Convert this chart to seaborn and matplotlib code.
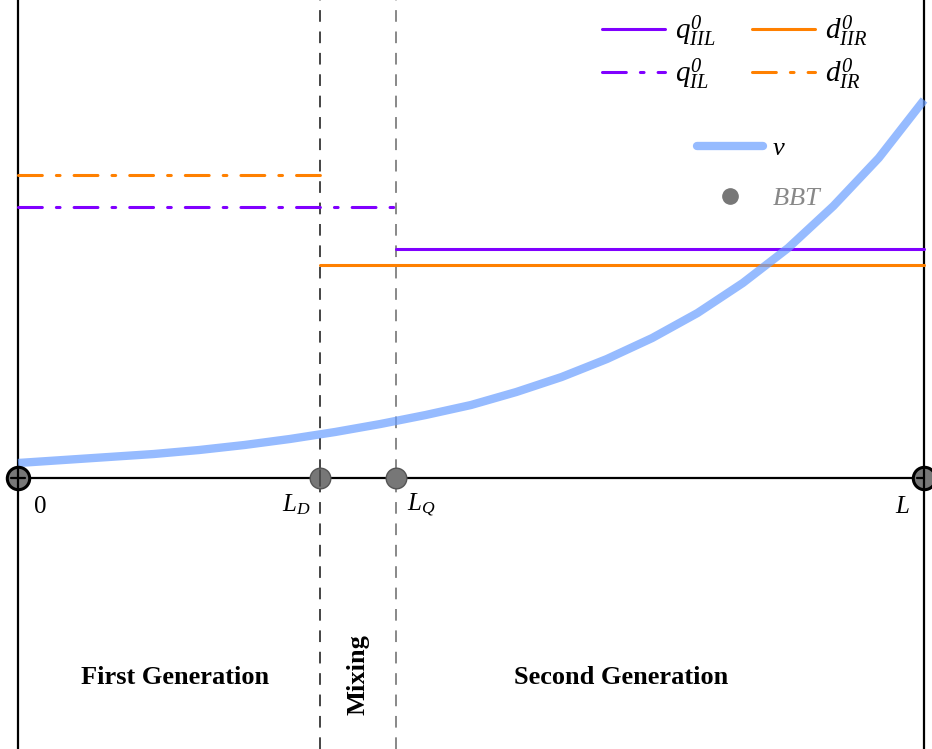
import numpy as np
import matplotlib
matplotlib.use('Agg')
import matplotlib.pyplot as plt
import seaborn as sns
from matplotlib.lines import Line2D

# positions along the line (L = 1)
L_D = 0.333
L_Q = 0.417
L = 1.0

# level lines
q_IL = 2.71    # first generation, left of L_Q
d_IR = 3.03    # first generation, left of L_D
q_IIL = 2.29   # second generation, right of L_Q
d_IIR = 2.13   # second generation, right of L_D

# v curve
v_x = [0.0, 0.05, 0.10, 0.15, 0.20, 0.25, 0.30, 0.35, 0.40, 0.45, 0.50,
       0.55, 0.60, 0.65, 0.70, 0.75, 0.80, 0.85, 0.90, 0.95, 1.0]
v_y = [0.15, 0.18, 0.21, 0.24, 0.28, 0.33, 0.39, 0.46, 0.54, 0.63, 0.73,
       0.86, 1.01, 1.19, 1.40, 1.65, 1.95, 2.30, 2.72, 3.20, 3.78]

bbt_x = [0.0, L_D, L_Q, L]
bbt_labels = ['$0$', '$L_D$', '$L_Q$', '$L$']

purple = '#8000ff'
orange = '#ff8000'
blue = '#6a9eff'

sns.set_style('white')
plt.rcParams['font.family'] = ['Liberation Serif', 'DejaVu Serif']
plt.rcParams['text.color'] = 'black'
plt.rcParams['mathtext.fontset'] = 'custom'
plt.rcParams['mathtext.rm'] = 'Liberation Serif'
plt.rcParams['mathtext.it'] = 'Liberation Serif:italic'
plt.rcParams['mathtext.bf'] = 'Liberation Serif:bold'
plt.rcParams['mathtext.sf'] = 'Liberation Serif:italic'  # used for the italic 0

fig = plt.figure(figsize=(9.32, 7.49), dpi=100)
ax = fig.add_axes([0, 0, 1, 1])
ax.set_xlim(-0.0199, 1.0088)
ax.set_ylim(-2.71, 4.78)
ax.axis('off')

# frame lines
ax.axvline(0, color='black', lw=1.6, zorder=2)
ax.axvline(L, color='black', lw=1.6, zorder=2)
ax.plot([0, L], [0, 0], color='black', lw=1.6, zorder=2)
ax.axvline(L_D, color='#444444', lw=1.4, ls=(0, (6, 5)), zorder=1)
ax.axvline(L_Q, color='#888888', lw=1.4, ls=(0, (6, 5)), zorder=1)

dd = (0, (7.8, 4.6, 1.2, 4.6))
ax.plot([0, L_D], [d_IR, d_IR], color=orange, lw=2.2, ls=dd, dash_capstyle='round', zorder=3)
ax.plot([0, L_Q], [q_IL, q_IL], color=purple, lw=2.2, ls=dd, dash_capstyle='round', zorder=3)
ax.plot([L_Q, L], [q_IIL, q_IIL], color=purple, lw=2.2, zorder=3)
ax.plot([L_D, L], [d_IIR, d_IIR], color=orange, lw=2.2, zorder=3)

sns.lineplot(x=v_x, y=v_y, ax=ax, color=blue, lw=6, alpha=0.7, zorder=4,
             solid_capstyle='butt')

# BBT points
sns.scatterplot(x=[bbt_x[0], bbt_x[3]], y=[0, 0], ax=ax, s=260, color='#777777',
                edgecolor='black', linewidth=2.2, zorder=5)
sns.scatterplot(x=[bbt_x[1], bbt_x[2]], y=[0, 0], ax=ax, s=220, color='#777777',
                edgecolor='#555555', linewidth=1, zorder=5)
ax.plot([0, 0], [-0.1, 0.1], color='black', lw=1.6, zorder=6)
ax.plot([0 - 0.008, 0 + 0.008], [0, 0], color='black', lw=1.6, zorder=6)
ax.plot([L, L], [-0.1, 0.1], color='black', lw=1.6, zorder=6)
ax.plot([L - 0.008, L], [0, 0], color='black', lw=1.6, zorder=6)
ax.plot([L_D, L_D], [-0.08, 0.08], color='#444444', lw=1.2, zorder=6)

offsets = [(0.024, -0.29, 'center'), (-0.010, -0.27, 'right'),
           (0.012, -0.27, 'left'), (-0.015, -0.29, 'right')]
for xv, lab, (dx, dy, ha) in zip(bbt_x, bbt_labels, offsets):
    ax.text(xv + dx, dy, lab, fontsize=18, ha=ha, va='center')

# region labels
ax.text(0.173, -1.99, 'First Generation', fontsize=19, fontweight='bold',
        ha='center', va='center')
ax.text((L_D + L_Q) / 2, -1.97, 'Mixing', fontsize=19, fontweight='bold',
        ha='center', va='center', rotation=90)
ax.text(0.666, -1.99, 'Second Generation', fontsize=19, fontweight='bold',
        ha='center', va='center')

# legends
h1 = [Line2D([], [], color=purple, lw=2.2),
      Line2D([], [], color=purple, lw=2.2, ls=dd, dash_capstyle='round'),
      Line2D([], [], color=orange, lw=2.2),
      Line2D([], [], color=orange, lw=2.2, ls=dd, dash_capstyle='round')]
l1 = [r'$q^{\mathsf{0}}_{IIL}$', r'$q^{\mathsf{0}}_{IL}$',
      r'$d^{\mathsf{0}}_{IIR}$', r'$d^{\mathsf{0}}_{IR}$']
leg1 = ax.legend(h1, l1, ncol=2, loc='upper left', bbox_to_anchor=(602 / 932, 1 - 13 / 749),
                 frameon=False, fontsize=21, handlelength=2.15, handletextpad=0.35,
                 columnspacing=1.25, labelspacing=0.25, borderpad=0, borderaxespad=0)
ax.add_artist(leg1)

h2 = [Line2D([], [], color=blue, lw=6, alpha=0.7, solid_capstyle='round'),
      Line2D([], [], ls='none', marker='o', ms=11, color='#777777')]
leg2 = ax.legend(h2, ['$v$', '$BBT$'], loc='upper left',
                 bbox_to_anchor=(697 / 932, 1 - 137 / 749), frameon=False, fontsize=19,
                 handlelength=2.5, handletextpad=0.35, labelspacing=1.0,
                 borderpad=0, borderaxespad=0)
leg2.get_texts()[1].set_color('#888888')

fig.savefig('out.png', dpi=100)
